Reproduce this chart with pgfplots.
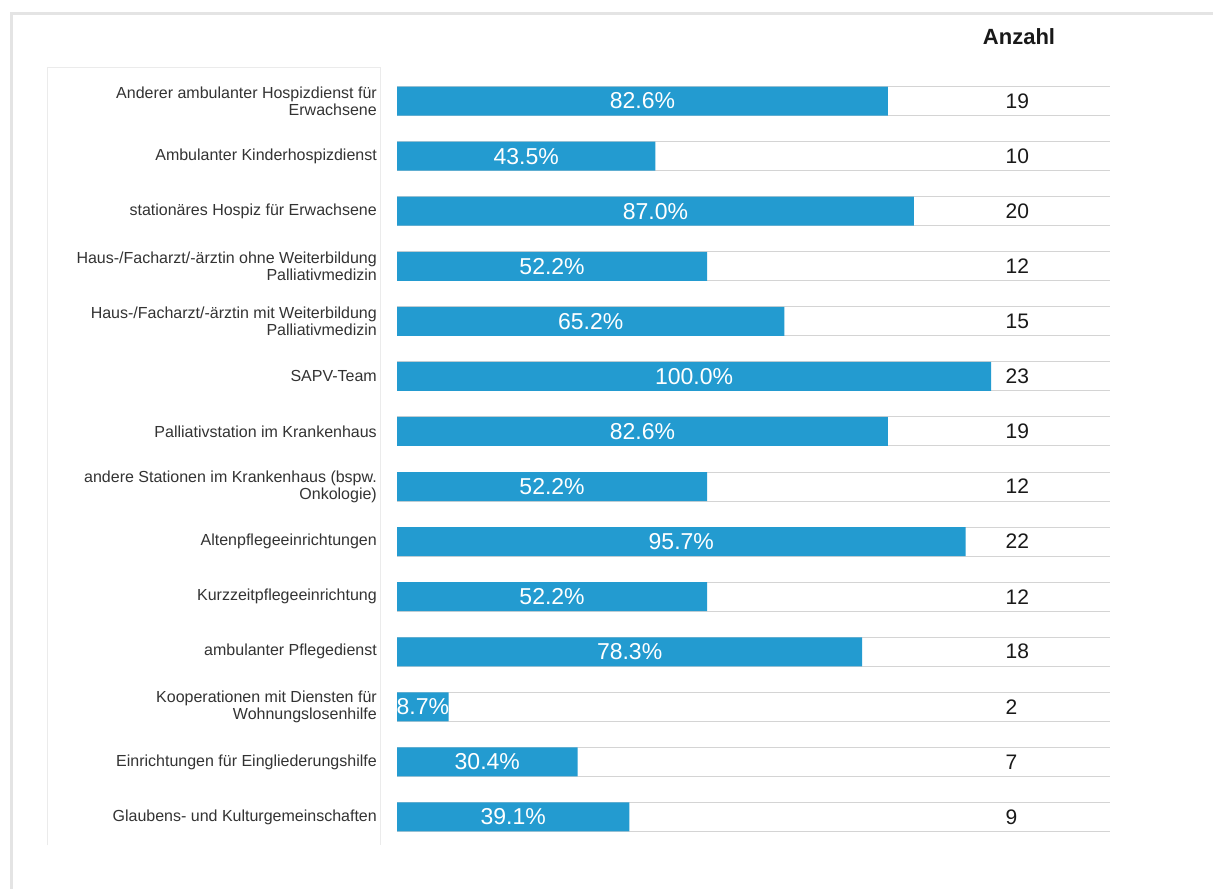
\documentclass[border=0pt]{standalone}
\usepackage{fontspec}
\setmainfont{Liberation Sans}
\usepackage{pgfplots}
\usepackage{pgfplotstable}
\pgfplotsset{compat=1.18}
\definecolor{barblue}{HTML}{239BD0}
\definecolor{labgray}{HTML}{333333}
\definecolor{framegray}{HTML}{E4E4E4}
\definecolor{panelgray}{HTML}{EBEBEB}
\pgfplotstableread{
y pct n
0 82.6 19
1 43.5 10
2 87.0 20
3 52.2 12
4 65.2 15
5 100.0 23
6 82.6 19
7 52.2 12
8 95.7 22
9 52.2 12
10 78.3 18
11 8.7 2
12 30.4 7
13 39.1 9
}\datatable
\begin{document}
\begin{tikzpicture}
\useasboundingbox (0pt,0pt) rectangle (1213pt,-889pt);
\fill[white] (0pt,0pt) rectangle (1213pt,-889pt);
\draw[framegray, line width=3pt] (11.5pt,-889pt) -- (11.5pt,-13pt) -- (1213pt,-13pt);
\draw[panelgray, line width=1pt] (47pt,-845pt) -- (47pt,-67pt) -- (380pt,-67pt) -- (380pt,-845pt);
\node[font=\fontsize{22}{24}\selectfont\bfseries, text=black!90] at (1019pt,-37pt) {Anzahl};
\begin{axis}[
  at={(397pt,-844.5pt)}, anchor=south west,
  scale only axis, width=713pt, height=771pt,
  xmin=0, xmax=120, ymin=-0.5, ymax=13.5, y dir=reverse,
  axis line style={draw=none},
  major tick length=0pt,
  xtick=\empty,
  ytick={0,...,13},
  yticklabels={
    {Anderer ambulanter Hospizdienst für\\Erwachsene},
    {Ambulanter Kinderhospizdienst},
    {stationäres Hospiz für Erwachsene},
    {Haus-/Facharzt/-ärztin ohne Weiterbildung\\Palliativmedizin},
    {Haus-/Facharzt/-ärztin mit Weiterbildung\\Palliativmedizin},
    {SAPV-Team},
    {Palliativstation im Krankenhaus},
    {andere Stationen im Krankenhaus (bspw.\\Onkologie)},
    {Altenpflegeeinrichtungen},
    {Kurzzeitpflegeeinrichtung},
    {ambulanter Pflegedienst},
    {Kooperationen mit Diensten für\\Wohnungslosenhilfe},
    {Einrichtungen für Eingliederungshilfe},
    {Glaubens- und Kulturgemeinschaften}},
  yticklabel style={font=\fontsize{16}{17}\selectfont, text=labgray, align=right, anchor=east, inner sep=0pt, xshift=-20pt},
  extra y ticks={-0.2633,0.7367,1.7367,2.7367,3.7367,4.7367,5.7367,6.7367,7.7367,8.7367,9.7367,10.7367,11.7367,12.7367,
                 0.2633,1.2633,2.2633,3.2633,4.2633,5.2633,6.2633,7.2633,8.2633,9.2633,10.2633,11.2633,12.2633,13.2633},
  extra y tick labels={},
  extra y tick style={grid=major, major grid style={draw=black!17, line width=1pt}},
  clip=false,
  /pgf/number format/assume math mode=true,
]
\addplot[xbar, bar width=29pt, bar shift=0pt, fill=barblue, draw=none] table[x=pct, y=y] {\datatable};
\addplot[draw=none, mark=none, nodes near coords={\pgfmathprintnumber[fixed,fixed zerofill,precision=1]{\pgfplotspointmeta}\%},
  point meta=explicit,
  nodes near coords style={anchor=center, text=white, font=\fontsize{23}{26}\selectfont, inner sep=0pt}]
  table[x expr=\thisrow{pct}/2, y=y, meta=pct] {\datatable};
\addplot[draw=none, mark=none, nodes near coords={\pgfmathprintnumber{\pgfplotspointmeta}},
  point meta=explicit,
  nodes near coords style={anchor=west, text=black!90, font=\fontsize{21}{24}\selectfont, inner sep=0pt}]
  table[x expr=102.4, y=y, meta=n] {\datatable};
\end{axis}
\end{tikzpicture}
\end{document}
